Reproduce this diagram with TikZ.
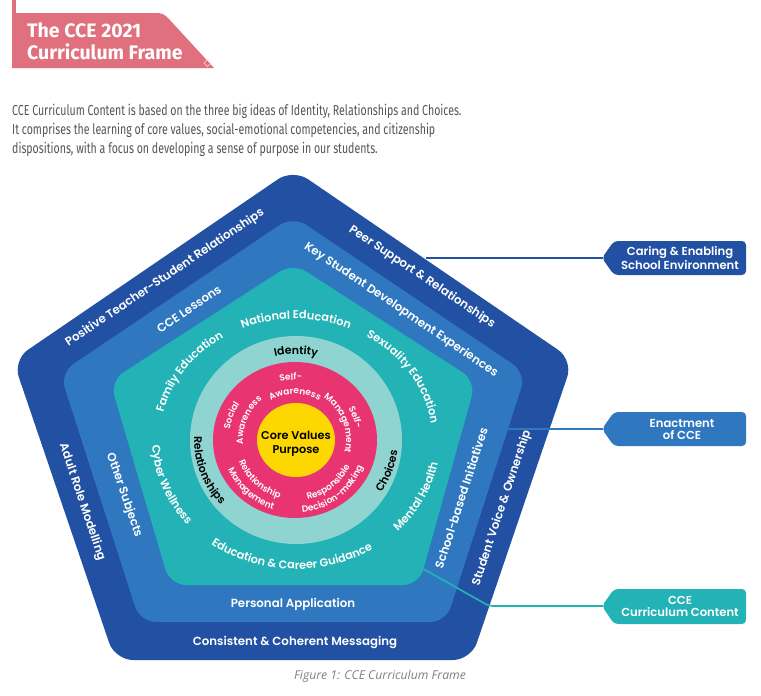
\documentclass[tikz,border=0pt]{standalone}
\usepackage{fontspec}
\usetikzlibrary{decorations.text,calc}
\setmainfont{Fira Sans}
\newfontfamily\dfont{Poppins SemiBold}
\newfontfamily\parafont{Fira Sans}[FakeStretch=0.73]
\newfontfamily\capfont{Open Sans}
\definecolor{dblue}{RGB}{34,80,162}
\definecolor{mblue}{RGB}{47,120,192}
\definecolor{tealA}{RGB}{35,178,182}
\definecolor{lteal}{RGB}{143,212,208}
\definecolor{pinkA}{RGB}{232,52,112}
\definecolor{yel}{RGB}{253,215,0}
\definecolor{titlepink}{RGB}{224,112,125}
\definecolor{paragray}{RGB}{85,85,85}
\definecolor{capgray}{RGB}{128,128,128}
\newcommand\fOut{\dfont\fontsize{11.8}{13}\selectfont}
\newcommand\fTeal{\dfont\fontsize{11.3}{13}\selectfont}
\newcommand\fRing{\dfont\fontsize{11}{13}\selectfont}
\newcommand\fPink{\dfont\fontsize{9}{10}\selectfont}
\newcommand\fCore{\dfont\fontsize{11.3}{13}\selectfont}
\newcommand\fTag{\dfont\fontsize{11.6}{12}\selectfont}
% text along an elliptic arc, letters' tops pointing outward
\newcommand\ArcOut[6]{\path[decorate,decoration={text along path,text align=center,text color=#6,text={#5}}]
  ($(#1)+({#2*cos(#4+60)},{#3*sin(#4+60)})$) arc[start angle=#4+60,end angle=#4-60,x radius=#2,y radius=#3];}
% text along an elliptic arc, letters' tops pointing to the centre
\newcommand\ArcIn[6]{\path[decorate,decoration={text along path,text align=center,text color=#6,text={#5}}]
  ($(#1)+({#2*cos(#4-60)},{#3*sin(#4-60)})$) arc[start angle=#4-60,end angle=#4+60,x radius=#2,y radius=#3];}
\tikzset{
  olbl/.style={font=\fOut,text=white,inner sep=0pt},
  para/.style={font=\parafont\fontsize{14.5}{19}\selectfont,text=paragray,inner sep=0pt,anchor=base west},
  tagtxt/.style={font=\fTag,text=white,align=center,inner sep=0pt},
  conn/.style={line width=1.7pt},
  ttl/.style={anchor=base west,inner sep=0pt,text=white,font=\bfseries\fontsize{19.5}{21}\selectfont},
}
\begin{document}
\begin{tikzpicture}[x=1pt,y=1pt]
\useasboundingbox (0,0) rectangle (761,-696);
\fill[white] (0,0) rectangle (761,-696);
% ---- title banner
\fill[titlepink] (12,0) rectangle (16,-14);
\fill[titlepink] (12,-13) -- (157,-13) to[out=0,in=135] (168,-18) -- (214,-68) -- (12,-68) -- cycle;
\draw[white!75!titlepink,line width=0.7pt] (204,-63) -- (207.5,-59.5) -- (211,-63) -- (207.5,-66.5) -- cycle;
\node[ttl] (t1) at (27,-37) {The CCE 2021};
\node[ttl] (t2) at (27,-59) {Curriculum Frame};
% ---- paragraph
\node[para] (p1) at (12,-115) {CCE Curriculum Content is based on the three big ideas of Identity, Relationships and Choices.};
\node[para] (p2) at (12,-134) {It comprises the learning of core values, social-emotional competencies, and citizenship};
\node[para] (p3) at (12,-153) {dispositions, with a focus on developing a sense of purpose in our students.};
% ---- pentagons and circles
\fill[dblue,rounded corners=18pt] (293,-169) -- (573,-360) -- (471,-660) -- (115,-660) -- (13,-360) -- cycle;
\fill[mblue,rounded corners=16pt] (293,-216) -- (526,-373) -- (446,-622) -- (140,-622) -- (60,-373) -- cycle;
\fill[tealA,rounded corners=16pt] (293,-263) -- (476,-381) -- (419,-585) -- (170,-585) -- (110,-381) -- cycle;
\fill[lteal] (296,-440) ellipse [x radius=106,y radius=104];
\fill[pinkA] (295,-440) ellipse [x radius=82,y radius=78];
\fill[yel] (296,-440) ellipse [x radius=39,y radius=37];
% ---- core
\node[font=\fCore,anchor=base,inner sep=0pt] (core) at (296,-439.5) {Core Values};
\node[font=\fCore,anchor=base,inner sep=0pt] (purp) at (296,-453) {Purpose};
% ---- outer band
\node[olbl,rotate=34] (o1) at (165,-278) {Positive Teacher-Student Relationships};
\node[olbl,rotate=-34] (o2) at (422,-277) {Peer Support \& Relationships};
\node[olbl,rotate=-71.5] (o3) at (82,-502) {Adult Role Modelling};
\node[olbl] (o4) at (295,-642) {Consistent \& Coherent Messaging};
\node[olbl,rotate=71.5] (o5) at (502,-508) {Student Voice \& Ownership};
% ---- middle band
\node[olbl,rotate=34] (m1) at (189,-309) {CCE Lessons};
\node[olbl,rotate=-34] (m2) at (401,-310) {Key Student Development Experiences};
\node[olbl,rotate=-71] (m3) at (124,-495) {Other Subjects};
\node[olbl] (m4) at (293,-604) {Personal Application};
\node[olbl,rotate=72] (m5) at (461,-498) {School-based Initiatives};
% ---- teal band (curved)
\ArcOut{296,-440}{136}{121}{90}{|\fTeal|National Education}{white}
\ArcOut{296,-440}{136}{121}{31.6}{|\fTeal|Sexuality Education}{white}
\ArcOut{296,-440}{136}{121}{146.4}{|\fTeal|Family Education}{white}
\ArcIn{296,-440}{144}{129}{200.3}{|\fTeal|Cyber Wellness}{white}
\ArcIn{296,-440}{144}{129}{-26}{|\fTeal|Mental Health}{white}
\ArcIn{296,-440}{144}{129}{268}{|\fTeal|Education {\&} Career Guidance}{white}
% ---- light ring (black)
\ArcOut{296,-440}{92}{86}{90}{|\fRing|Identity}{black}
\ArcIn{296,-440}{102}{96}{199.5}{|\fRing|Relationships}{black}
\ArcIn{296,-440}{102}{96}{-19}{|\fRing|Choices}{black}
% ---- pink ring
\ArcOut{295,-440}{60}{60}{94}{|\fPink|Self-}{white}
\ArcOut{295,-440}{46}{46}{90}{|\fPink|Awareness}{white}
\ArcOut{295,-440}{62}{62}{20.7}{|\fPink|Self-}{white}
\ArcOut{295,-440}{51}{51}{21}{|\fPink|Management}{white}
\ArcOut{295,-440}{66}{66}{159}{|\fPink|Social}{white}
\ArcOut{295,-440}{52}{52}{157}{|\fPink|Awareness}{white}
\ArcIn{295,-440}{60}{60}{228}{|\fPink|Relationship}{white}
\ArcIn{295,-440}{73}{73}{228}{|\fPink|Management}{white}
\ArcIn{295,-440}{61}{61}{-52}{|\fPink|Responsible}{white}
\ArcIn{295,-440}{73}{73}{-53}{|\fPink|Decision-making}{white}
% ---- callout tags
\fill[dblue,rounded corners=4pt] (602,-258) -- (614,-241) -- (746,-241) -- (746,-275) -- (614,-275) -- cycle;
\fill[mblue,rounded corners=4pt] (602,-429) -- (614,-412) -- (746,-412) -- (746,-446) -- (614,-446) -- cycle;
\fill[tealA,rounded corners=4pt] (602,-606) -- (614,-589) -- (746,-589) -- (746,-624) -- (614,-624) -- cycle;
\coordinate (tip1) at (603,-258);
\coordinate (tip2) at (603,-429);
\coordinate (tip3) at (603,-606);
\node[tagtxt] (g1) at (680,-258) {Caring \& Enabling\\School Environment};
\node[tagtxt] (g2) at (682,-429) {Enactment\\of CCE};
\node[tagtxt] (g3) at (680,-606) {CCE\\Curriculum Content};
% ---- connectors
\coordinate (s1) at (426,-258);
\coordinate (s2) at (507,-429);
\coordinate (s3) at (413,-563);
\coordinate (b3) at (489,-606);
\draw[conn,dblue] (s1) -- (tip1);
\draw[conn,mblue] (s2) -- (tip2);
\draw[conn,tealA,rounded corners=4pt] (s3) -- (b3) -- (tip3);
% ---- caption
\node[anchor=base,inner sep=0pt,text=capgray,font=\capfont\itshape\fontsize{12.2}{14}\selectfont] (cap) at (380,-679) {Figure 1: CCE Curriculum Frame};
\end{tikzpicture}
\end{document}
